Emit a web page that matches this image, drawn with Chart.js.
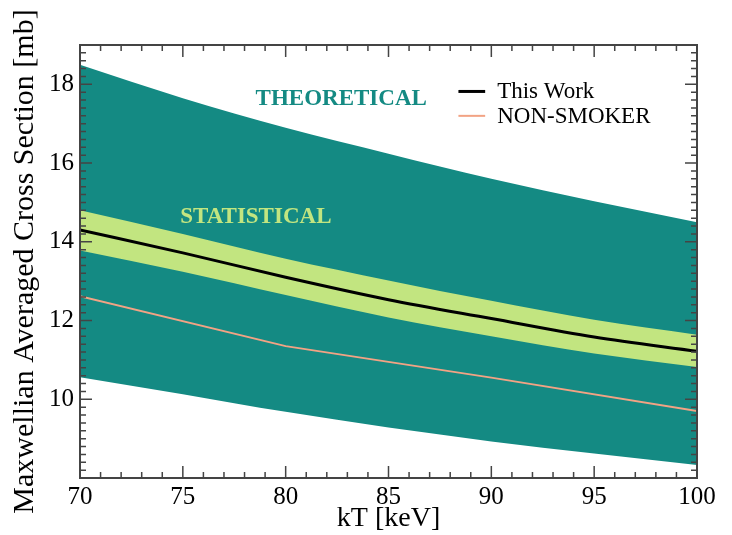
<!DOCTYPE html>
<html>
<head>
    <title>Maxwellian Averaged Cross Section</title>
    <script src="https://cdn.jsdelivr.net/npm/chart.js"></script>
    <style>
        html, body { margin: 0; padding: 0; background: #fff; }
        #wrap { width: 732px; height: 535px; }
    </style>
</head>
<body>
    <div id="wrap"><canvas id="macsChart"></canvas></div>

    <script>
        // kT grid (keV) and values (mb)
        const kT = [70, 75, 80, 85, 90, 95, 100];
        const theoUpper = [18.5, 17.65, 16.9, 16.24, 15.6, 15.03, 14.5];
        const theoLower = [10.56, 10.13, 9.68, 9.28, 8.93, 8.62, 8.33];
        const statUpper = [14.8, 14.2, 13.57, 13.02, 12.5, 12.02, 11.64];
        const statLower = [13.78, 13.24, 12.65, 12.08, 11.6, 11.16, 10.82];
        const thisWork = [14.3, 13.72, 13.1, 12.53, 12.05, 11.58, 11.22];
        const nonSmokerKT = [70, 80, 90, 100];
        const nonSmoker = [12.62, 11.35, 10.55, 9.7];

        const xTicks = [70, 75, 80, 85, 90, 95, 100];
        const yTicks = [10, 12, 14, 16, 18];

        const TEAL = '#148a83';
        const GREEN = '#c2e580';
        const SALMON = '#f2a384';
        const SERIF = '"Liberation Serif", "DejaVu Serif", serif';

        const pts = (xs, ys) => xs.map((x, i) => ({ x: x, y: ys[i] }));

        const frame = {
            id: 'frame',
            afterDatasetsDraw(chart) {
                const ctx = chart.ctx;
                const xs = chart.scales.x, ys = chart.scales.y;
                const a = chart.chartArea;

                // band labels
                ctx.save();
                ctx.font = 'bold 23px ' + SERIF;
                ctx.textAlign = 'center';
                ctx.textBaseline = 'middle';
                ctx.fillStyle = TEAL;
                ctx.fillText('THEORETICAL', xs.getPixelForValue(82.7), ys.getPixelForValue(17.62));
                ctx.fillStyle = GREEN;
                ctx.fillText('STATISTICAL', xs.getPixelForValue(78.55), ys.getPixelForValue(14.63));

                // legend
                const lx0 = xs.getPixelForValue(88.4), lx1 = xs.getPixelForValue(89.7);
                const rows = [
                    { label: 'This Work', color: '#000', w: 3, y: 17.82 },
                    { label: 'NON-SMOKER', color: SALMON, w: 2, y: 17.2 }
                ];
                ctx.font = '23px ' + SERIF;
                ctx.textAlign = 'left';
                ctx.fillStyle = '#000';
                rows.forEach(r => {
                    const py = ys.getPixelForValue(r.y);
                    ctx.strokeStyle = r.color;
                    ctx.lineWidth = r.w;
                    ctx.beginPath();
                    ctx.moveTo(lx0, py);
                    ctx.lineTo(lx1, py);
                    ctx.stroke();
                    ctx.fillText(r.label, lx1 + 12, py + 1);
                });
                ctx.restore();

                // box with inward ticks on all sides
                ctx.save();
                ctx.strokeStyle = '#444';
                ctx.lineWidth = 1.5;
                for (let v = 70; v <= 100; v += 1) {
                    const px = xs.getPixelForValue(v);
                    const len = v % 5 === 0 ? 12 : 6;
                    ctx.beginPath();
                    ctx.moveTo(px, a.bottom); ctx.lineTo(px, a.bottom - len);
                    ctx.moveTo(px, a.top); ctx.lineTo(px, a.top + len);
                    ctx.stroke();
                }
                for (let i = 40; i <= 95; i++) {
                    const v = i / 5;
                    const py = ys.getPixelForValue(v);
                    if (py < a.top || py > a.bottom) continue;
                    const len = i % 10 === 0 ? 12 : 6;
                    ctx.beginPath();
                    ctx.moveTo(a.left, py); ctx.lineTo(a.left + len, py);
                    ctx.moveTo(a.right, py); ctx.lineTo(a.right - len, py);
                    ctx.stroke();
                }
                ctx.lineWidth = 2;
                ctx.strokeRect(a.left, a.top, a.right - a.left, a.bottom - a.top);
                ctx.restore();
            }
        };

        const ctx = document.getElementById('macsChart').getContext('2d');
        new Chart(ctx, {
            type: 'line',
            data: {
                datasets: [
                    {
                        label: 'Theoretical upper',
                        data: pts(kT, theoUpper),
                        borderWidth: 0,
                        backgroundColor: TEAL,
                        fill: '+1',
                        order: 5
                    },
                    {
                        label: 'Theoretical lower',
                        data: pts(kT, theoLower),
                        borderWidth: 0,
                        fill: false,
                        order: 5
                    },
                    {
                        label: 'Statistical upper',
                        data: pts(kT, statUpper),
                        borderWidth: 0,
                        backgroundColor: GREEN,
                        fill: '+1',
                        order: 3
                    },
                    {
                        label: 'Statistical lower',
                        data: pts(kT, statLower),
                        borderWidth: 0,
                        fill: false,
                        order: 3
                    },
                    {
                        label: 'This Work',
                        data: pts(kT, thisWork),
                        borderColor: '#000',
                        borderWidth: 3,
                        fill: false,
                        order: 1
                    },
                    {
                        label: 'NON-SMOKER',
                        data: pts(nonSmokerKT, nonSmoker),
                        borderColor: SALMON,
                        borderWidth: 2,
                        cubicInterpolationMode: 'default',
                        tension: 0,
                        fill: false,
                        order: 1
                    }
                ]
            },
            options: {
                responsive: true,
                maintainAspectRatio: false,
                animation: false,
                devicePixelRatio: 1,
                elements: {
                    point: { radius: 0, hoverRadius: 0 },
                    line: { cubicInterpolationMode: 'monotone' }
                },
                layout: { padding: { left: 0, right: 35, top: 45, bottom: 0 } },
                plugins: {
                    legend: { display: false },
                    tooltip: { enabled: false }
                },
                scales: {
                    x: {
                        type: 'linear',
                        min: 70,
                        max: 100,
                        afterBuildTicks: s => { s.ticks = xTicks.map(v => ({ value: v })); },
                        afterFit: s => { s.height = 57; },
                        grid: { display: false, drawTicks: false },
                        border: { display: false },
                        ticks: {
                            padding: 4,
                            color: '#000',
                            font: { family: SERIF, size: 25 },
                            maxRotation: 0
                        },
                        title: {
                            display: true,
                            text: 'kT [keV]',
                            color: '#000',
                            font: { family: SERIF, size: 28 },
                            padding: { top: 0, bottom: 0 }
                        }
                    },
                    y: {
                        type: 'linear',
                        min: 8,
                        max: 19,
                        afterBuildTicks: s => { s.ticks = yTicks.map(v => ({ value: v })); },
                        afterFit: s => { s.width = 80; },
                        grid: { display: false, drawTicks: false },
                        border: { display: false },
                        ticks: {
                            padding: 6,
                            color: '#000',
                            font: { family: SERIF, size: 25 }
                        },
                        title: {
                            display: true,
                            text: 'Maxwellian Averaged Cross Section [mb]',
                            color: '#000',
                            font: { family: SERIF, size: 30 },
                            padding: { top: 7, bottom: 0 }
                        }
                    }
                }
            },
            plugins: [frame]
        });
    </script>
</body>
</html>
